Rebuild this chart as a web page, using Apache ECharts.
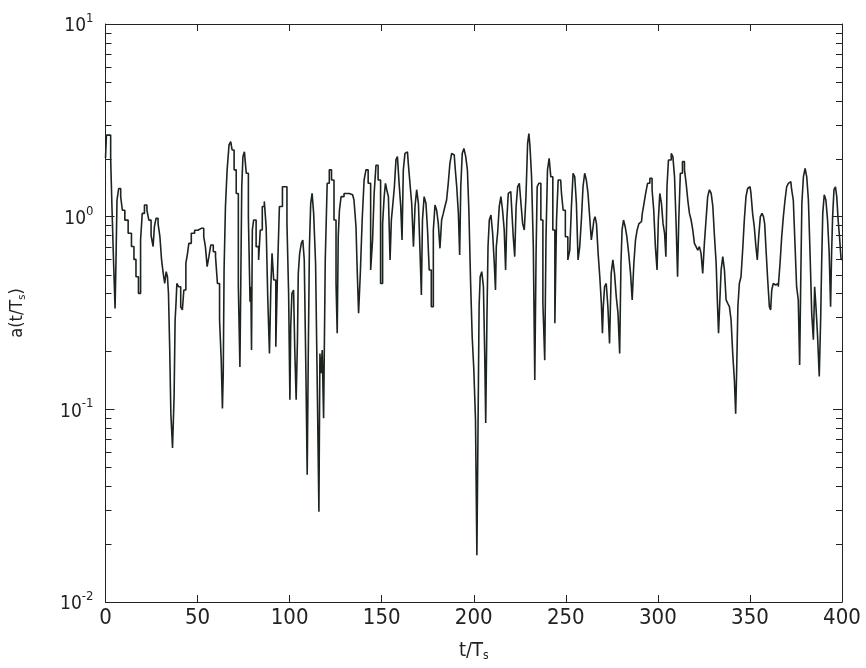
<!DOCTYPE html>
<html><head><meta charset="utf-8">
<script src="https://cdn.jsdelivr.net/npm/echarts@6/dist/echarts.min.js"></script>
<style>html,body{margin:0;padding:0;background:#fff}#c{width:866px;height:668px}</style>
</head><body><div id="c"></div>
<script>
// time axis (t/Ts) of each read sample
const tValues = [
0,1.0,2.4,3.2,3.8,5.0,5.4,6.0,6.5,7.8,8.7,9.6,11.4,13.2,15.0,15.9,17.2,18.6,19.5,20.4,21.9,23.1,24.0,25.5,26.2,26.9,28.0,29.1,30.0,30.9,31.8,32.5,33.4,33.9,34.5,35.2,35.8,37.0,37.5,38.1,38.5,39.0,40.3,41.4,42.1,43.0,44.3,44.8,45.7,47.5,
49.3,51.1,52.9,53.8,54.7,55.7,56.6,57.8,59.3,60.2,61.4,62.5,63.2,63.8,64.1,64.7,65.6,66.5,67.7,68.3,69.2,70.5,71.5,72.8,73.2,73.7,74.3,75.0,75.9,77.0,78.2,78.8,79.1,79.5,80.0,80.9,82.7,83.6,84.5,85.8,86.7,87.8,88.5,89.6,90.0,90.9,91.8,93.2,93.9,95.0,97.2,
98.1,99.0,99.9,100.4,100.8,101.7,102.6,103.0,104.1,104.4,105.0,105.9,106.8,107.5,108.4,109.3,109.8,110.4,111.1,111.8,112.6,113.5,114.7,115.6,116.2,116.7,117.4,118.0,118.9,119.8,121.0,122.1,123.4,124.8,125.6,126.1,126.7,127.4,128.5,130.6,134.2,135.7,136.4,136.9,138.0,138.8,140.0,140.9,142.0,143.3,144.7,145.4,146.4,147.4,148.7,150.1,150.9,151.8,
152.3,153.2,154.1,155.0,155.5,156.4,157.4,158.1,159.0,159.9,160.8,161.3,162.2,163.1,164.0,164.9,165.8,166.8,167.7,168.5,169.5,170.4,171.3,171.8,172.5,173.6,174.5,175.3,176.3,177.6,178.5,179.4,180.3,181.2,182.1,183.0,183.9,184.8,185.7,186.6,187.5,188.5,189.4,190.3,191.2,192.1,192.6,193.3,194.2,195.1,196.2,196.9,197.8,198.7,199.6,200.5,201.4,
202.0,202.4,202.7,203.1,203.9,204.8,205.7,206.2,206.8,207.5,208.0,208.9,209.8,210.7,211.6,212.0,212.5,213.4,214.3,215.2,216.1,217.0,217.6,218.3,219.2,220.1,221.0,221.9,222.6,223.4,224.3,225.2,226.1,227.0,227.9,228.8,229.7,230.2,230.9,231.9,232.8,233.5,234.2,234.7,236.0,236.9,238.2,238.9,239.6,240.5,241.4,242.3,243.6,244.5,245.4,246.3,247.2,248.1,249.0,250.5,251.7,252.6,253.5,254.4,
255.3,256.2,257.1,258.0,258.9,259.8,260.7,261.6,262.5,263.4,264.3,264.9,265.6,266.2,267.1,268.0,268.9,269.7,270.1,270.6,271.5,272.4,273.3,274.2,275.1,276.0,276.9,277.9,278.8,279.7,280.2,280.9,281.8,282.7,283.6,284.7,285.6,286.5,287.4,288.3,289.2,290.2,291.1,292.0,292.9,293.8,295.0,296.3,297.4,298.1,299.2,299.9,300.6,301.5,302.4,303.2,304.1,304.6,305.3,306.2,
306.8,307.7,308.6,309.5,310.4,311.0,311.7,312.7,314.0,314.9,315.8,316.7,317.6,318.5,319.4,320.3,321.2,322.1,323.0,323.9,324.8,325.7,326.6,327.5,328.5,329.4,330.3,331.2,332.1,332.6,333.3,333.9,334.8,335.7,336.6,337.5,338.4,339.3,340.2,341.1,342.0,342.5,343.1,343.8,344.7,345.6,346.5,347.4,348.3,349.2,350.1,351.0,351.9,352.8,353.7,354.3,355.2,356.1,357.0,357.7,
358.3,359.2,360.1,361.0,361.5,362.2,363.1,364.0,364.9,365.9,366.8,367.7,368.6,369.5,370.4,371.3,372.2,373.1,374.0,374.9,375.8,376.7,377.3,377.8,378.6,379.5,380.4,381.3,382.2,383.1,384.0,384.9,385.4,386.3,387.2,388.1,388.7,389.2,389.9,390.8,391.7,392.6,393.5,394.1,394.6,395.2,396.1,396.8,397.5,398.3,399.0,400
];
// amplitude a(t/Ts) at each sample
const aValues = [
2.01,2.65,2.65,2.01,1.13,0.573,0.334,0.596,1.22,1.40,1.27,1.08,0.96,0.82,0.70,0.60,0.488,0.40,0.757,1.04,1.15,1.08,0.96,0.80,0.70,0.887,0.98,0.92,0.787,0.596,0.508,0.45,0.518,0.488,0.40,0.211,0.095,0.063,0.116,0.29,0.355,0.45,0.433,0.34,0.328,0.416,0.573,0.645,0.727,0.82,
0.85,0.87,0.87,0.787,0.699,0.55,0.62,0.713,0.658,0.62,0.45,0.291,0.18,0.101,0.154,0.529,1.13,1.75,2.36,2.45,2.22,1.75,1.32,0.433,0.166,0.433,1.43,2.05,2.17,1.68,1.0,0.362,0.433,0.203,0.853,0.961,0.699,0.596,0.853,1.13,1.2,0.887,0.37,0.195,0.433,0.645,0.469,0.211,0.573,1.13,1.43,
1.43,0.92,0.40,0.112,0.269,0.40,0.416,0.203,0.112,0.229,0.508,0.645,0.727,0.757,0.596,0.154,0.0458,0.18,0.699,1.17,1.32,1.04,0.573,0.107,0.0294,0.195,0.154,0.203,0.09,0.596,1.49,1.75,1.55,0.961,0.45,0.248,0.787,1.08,1.27,1.32,1.30,1.22,0.887,0.55,0.315,0.508,0.961,1.55,1.75,1.49,0.529,0.757,1.32,1.85,1.55,0.45,0.92,1.27,
1.49,1.38,1.27,0.596,0.961,1.13,1.43,1.97,2.05,1.49,1.13,0.757,1.75,2.13,2.17,1.89,1.49,1.17,0.699,1.13,1.38,1.17,0.645,0.392,0.961,1.27,1.17,0.853,0.529,0.341,0.853,1.15,1.08,0.92,0.685,0.961,1.04,1.13,1.22,1.49,1.89,2.13,2.09,1.82,1.43,1.04,0.633,1.43,2.13,2.26,2.05,1.75,1.08,0.469,0.238,0.16,0.088,
0.0175,0.059,0.142,0.341,0.488,0.518,0.433,0.195,0.085,0.291,0.699,0.961,1.02,0.82,0.573,0.416,0.699,0.82,1.13,1.27,1.08,0.853,0.529,0.961,1.32,1.35,1.13,0.787,0.62,1.13,1.43,1.49,1.17,0.92,0.853,1.27,2.4,2.70,2.31,1.61,0.699,0.142,0.645,1.43,1.49,0.961,0.355,0.18,0.787,1.75,2.01,1.61,0.853,0.28,0.961,1.55,1.55,1.32,1.08,0.787,0.596,0.671,1.13,1.68,
1.61,1.17,0.596,0.699,0.961,1.43,1.68,1.55,1.32,1.0,0.757,0.853,0.961,1.0,0.92,0.645,0.488,0.355,0.248,0.341,0.433,0.45,0.341,0.22,0.508,0.596,0.508,0.384,0.315,0.195,0.573,0.853,0.961,0.887,0.787,0.645,0.508,0.37,0.573,0.757,0.853,0.92,0.942,1.04,1.17,1.32,1.49,1.58,1.38,1.08,0.699,0.529,0.961,1.32,1.17,0.92,0.82,0.62,1.43,1.97,
1.97,2.13,2.05,1.61,0.887,0.488,0.961,1.68,1.93,1.75,1.49,1.22,1.04,0.961,0.853,0.727,0.699,0.671,0.699,0.645,0.508,0.727,0.961,1.27,1.38,1.32,1.13,0.787,0.573,0.355,0.248,0.355,0.529,0.62,0.529,0.37,0.355,0.341,0.291,0.195,0.142,0.095,0.16,0.341,0.45,0.488,0.671,0.961,1.27,1.40,1.43,1.32,1.04,0.887,0.699,0.596,0.787,1.0,1.04,1.0,
0.92,0.671,0.469,0.341,0.328,0.416,0.45,0.442,0.45,0.433,0.573,0.787,1.0,1.22,1.43,1.49,1.52,1.38,1.22,0.727,0.433,0.37,0.17,0.433,1.17,1.61,1.78,1.61,1.22,0.645,0.315,0.23,0.433,0.341,0.238,0.148,0.291,0.573,1.04,1.30,1.22,0.961,0.645,0.341,0.645,1.0,1.38,1.43,1.27,0.961,0.787,0.6
];
const xTickLabels = [0, 50, 100, 150, 200, 250, 300, 350, 400];
const yMinorTicks = [0.02,0.03,0.04,0.05,0.06,0.07,0.08,0.09,0.2,0.3,0.4,0.5,0.6,0.7,0.8,0.9,2,3,4,5,6,7,8,9];

const FONT = '"DejaVu Sans Condensed", "Liberation Sans", sans-serif';
const INK = '#222';
const lineData = tValues.map((t, i) => [t, aValues[i]]);
const xMin = xTickLabels[0], xMax = xTickLabels[xTickLabels.length - 1];

const chart = echarts.init(document.getElementById('c'));
const yLabelFmt = v => '{b|10}{s|' + Math.round(Math.log10(v)) + '}';
const axisLineSty = {show: true, onZero: false, lineStyle: {color: INK, width: 1}};

chart.setOption({
  animation: false,
  backgroundColor: '#fff',
  grid: {left: 104, right: 24, top: 24, bottom: 66},
  xAxis: [{
    type: 'value', position: 'bottom', min: xMin, max: xMax, interval: 50,
    axisLine: axisLineSty,
    axisTick: {show: true, inside: true, length: 7, lineStyle: {color: INK}},
    axisLabel: {fontSize: 22, color: INK, fontFamily: FONT, margin: 5},
    splitLine: {show: false},
    name: 't/T{s|s}', nameLocation: 'middle', nameGap: 38,
    nameTextStyle: {fontSize: 20, color: INK, fontFamily: FONT,
      rich: {s: {fontSize: 12, color: INK, fontFamily: FONT, verticalAlign: 'bottom', padding: [10, 0, 0, 0]}}}
  }, {
    type: 'value', position: 'top', min: xMin, max: xMax, interval: 50,
    axisLine: axisLineSty,
    axisTick: {show: true, inside: true, length: 7, lineStyle: {color: INK}},
    axisLabel: {show: false}, splitLine: {show: false}
  }],
  yAxis: [{
    type: 'log', logBase: 10, min: 0.01, max: 10, position: 'left',
    axisLine: axisLineSty,
    axisTick: {show: true, inside: true, length: 9, lineStyle: {color: INK}},
    axisLabel: {formatter: yLabelFmt, margin: 12, color: INK, fontFamily: FONT,
      rich: {
        b: {fontSize: 19, color: INK, fontFamily: FONT, lineHeight: 24, verticalAlign: 'bottom'},
        s: {fontSize: 13, color: INK, fontFamily: FONT, verticalAlign: 'top', lineHeight: 14}
      }},
    splitLine: {show: false},
    name: 'a(t/T{s|s})', nameLocation: 'middle', nameGap: 78, nameRotate: 90,
    nameTextStyle: {fontSize: 18, color: INK, fontFamily: FONT,
      rich: {s: {fontSize: 11, color: INK, fontFamily: FONT, verticalAlign: 'bottom', padding: [10, 0, 0, 0]}}}
  }, {
    type: 'log', logBase: 10, min: 0.01, max: 10, position: 'right',
    axisLine: axisLineSty,
    axisTick: {show: true, inside: true, length: 9, lineStyle: {color: INK}},
    axisLabel: {show: false}, splitLine: {show: false}
  }],
  series: [{
    type: 'line', xAxisIndex: 0, yAxisIndex: 0, step: 'middle', showSymbol: false,
    data: lineData, lineStyle: {color: '#1c241e', width: 1.6}, silent: true
  }, {
    type: 'custom', xAxisIndex: 0, yAxisIndex: 0, silent: true, clip: false, z: 10,
    data: yMinorTicks.map(v => [xMax, v]), encode: {x: 0, y: 1},
    renderItem: function (params, api) {
      const p = api.coord([api.value(0), api.value(1)]);
      const cs = params.coordSys;
      const y = Math.round(p[1]) + 0.5;
      const st = {stroke: INK, lineWidth: 1};
      return {type: 'group', children: [
        {type: 'line', shape: {x1: cs.x, y1: y, x2: cs.x + 6, y2: y}, style: st},
        {type: 'line', shape: {x1: p[0] - 6, y1: y, x2: p[0], y2: y}, style: st}
      ]};
    }
  }]
});
</script></body></html>
